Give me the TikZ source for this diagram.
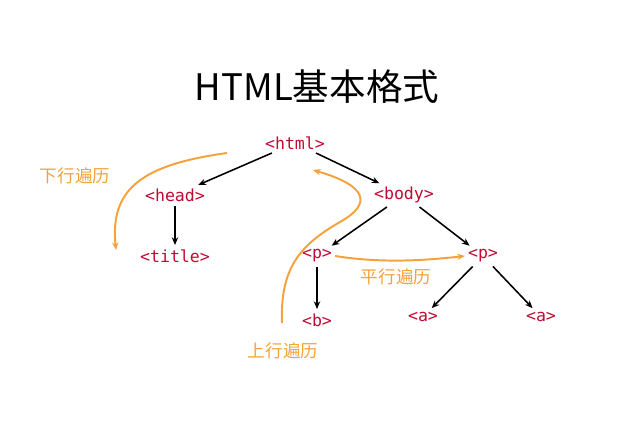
\documentclass[tikz,border=0pt]{standalone}
\usepackage{fontspec}
\setmainfont{Noto Sans CJK SC}
\setmonofont{DejaVu Sans Mono}
\usetikzlibrary{arrows.meta}

\definecolor{tagred}{RGB}{192,10,50}
\definecolor{travorange}{RGB}{245,162,60}

\begin{document}
\begin{tikzpicture}[
    x=0.025cm, y=-0.025cm,
    tag/.style={font=\ttfamily\fontsize{11.8}{14}\selectfont, text=tagred, inner sep=2pt},
    travlabel/.style={font=\fontsize{12.5}{15}\selectfont, text=travorange},
    arrow/.style={-{Stealth[length=5.5pt,width=4.5pt]}, line width=1.1pt, shorten >=1pt, shorten <=1pt},
    travarrow/.style={-{Stealth[length=5.5pt,width=4.5pt]}, travorange, line width=1.4pt}
]
    \useasboundingbox (0,0) rectangle (640,443);

    % Title
    \node[font=\fontsize{26}{30}\selectfont] (title) at (317,87) {HTML基本格式};

    % Tree of tags
    \node[tag] (html)   at (295,143) {<html>};
    \node[tag] (head)   at (175,195) {<head>};
    \node[tag] (body)   at (404,195) {<body>};
    \node[tag] (ttl)    at (175,256) {<title>};
    \node[tag] (pleft)  at (317,256) {<p>};
    \node[tag] (pright) at (483,256) {<p>};
    \node[tag] (b)      at (317,320) {<b>};
    \node[tag] (aleft)  at (423,317) {<a>};
    \node[tag] (aright) at (541,317) {<a>};

    % Arrows
    \draw[arrow] (html) -- (head);
    \draw[arrow] (html) -- (body);
    \draw[arrow] (head) -- (ttl);
    \draw[arrow] (body) -- (pleft);
    \draw[arrow] (body) -- (pright);
    \draw[arrow] (pleft) -- (b);
    \draw[arrow] (pright) -- (aleft);
    \draw[arrow] (pright) -- (aright);

    % Traversal labels
    \node[travlabel] (down)  at (75,176)  {下行遍历};
    \node[travlabel] (side)  at (396,277) {平行遍历};
    \node[travlabel] (up)    at (283,351) {上行遍历};

    % Traversal curves
    \coordinate (downstart) at (227,153);
    \coordinate (downend)   at (116,250);
    \coordinate (upstart)   at (282,323);
    \coordinate (upmid)     at (340,222);
    \coordinate (upend)     at (313,170);
    \draw[travarrow] (downstart) .. controls (140,165) and (110,190) .. (downend);
    \draw[travarrow] (upstart) .. controls (280,268) and (300,245) .. (upmid)
        .. controls (372,204) and (368,186) .. (upend);
    \draw[travarrow] (pleft.east) .. controls (380,263) and (420,261) .. (pright.west);

\end{tikzpicture}
\end{document}
